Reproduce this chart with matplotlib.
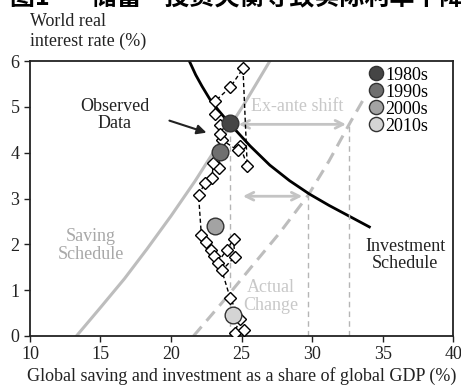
import numpy as np
import matplotlib
matplotlib.use("Agg")
from matplotlib import pyplot as plt

plt.rcParams['font.family'] = ['Liberation Serif', 'DejaVu Serif']

# %% schedules (share of GDP %, real rate %)
invest_x = [21.3, 21.75, 22.2, 22.75, 23.35, 24.2, 25.6, 27.0, 28.4, 29.8, 31.2, 32.6, 34.06]
invest_y = [6.0, 5.7, 5.45, 5.17, 4.93, 4.62, 4.15, 3.73, 3.39, 3.1, 2.85, 2.62, 2.38]

saving_x = [13.3, 15.0, 16.7, 18.3, 20.0, 21.7, 23.4, 25.2, 27.0]
saving_y = [0.0, 0.62, 1.25, 1.9, 2.62, 3.38, 4.2, 5.07, 6.0]

shifted_x = [21.6, 23.6, 25.6, 27.7, 29.74, 31.2, 32.7, 33.8]
shifted_y = [0.0, 0.72, 1.47, 2.25, 3.08, 3.82, 4.66, 5.25]

# %% annual observations
obs_x = [23.5, 23.1, 23.1, 24.2, 25.1, 25.4, 24.9, 24.75, 23.6, 23.45, 23.4, 23.0,
         22.9, 22.4, 21.95, 22.15, 22.5, 22.85, 23.05, 23.3, 23.95, 24.45, 24.5,
         23.6, 24.2, 24.9, 24.5, 25.2]
obs_y = [4.6, 4.85, 5.12, 5.43, 5.84, 3.72, 4.15, 4.05, 4.28, 4.4, 3.67, 3.78,
         3.44, 3.33, 3.08, 2.2, 2.05, 1.88, 1.75, 1.6, 1.88, 2.12, 1.72,
         1.43, 0.82, 0.38, 0.07, 0.12]

# decade averages
decades = ['1980s', '1990s', '2000s', '2010s']
dec_x = [24.18, 23.48, 23.12, 24.42]
dec_y = [4.64, 4.02, 2.39, 0.46]
dec_colors = ['#454545', '#6f6f6f', '#a3a3a3', '#d4d4d4']

# %%
fig = plt.figure(figsize=(4.61, 3.87), dpi=100)
ax = fig.add_axes([0.065, 0.132, 0.918, 0.71])

light = '#bdbdbd'
ink = '#222222'

ax.plot(saving_x, saving_y, color=light, lw=2.2)
ax.plot(shifted_x, shifted_y, color=light, lw=2.2, dashes=(4, 2.5))
ax.plot(invest_x, invest_y, color='black', lw=2.0)

# verticals at the intersections
for vx, vy in [(dec_x[0], dec_y[0]), (29.74, 3.08), (32.6, 4.66)]:
    ax.plot([vx, vx], [0, vy], color='#b5b5b5', lw=1.0, dashes=(4, 3))

ax.annotate('', xy=(32.6, 4.62), xytext=(24.6, 4.62),
            arrowprops=dict(arrowstyle='<->', color='#c4c4c4', lw=2, mutation_scale=14))
ax.annotate('', xy=(29.5, 3.05), xytext=(24.9, 3.05),
            arrowprops=dict(arrowstyle='<->', color='#c4c4c4', lw=2, mutation_scale=14))

ax.plot(obs_x, obs_y, color='black', lw=1.0, ls=(0, (3, 2)), marker='D', ms=6.3,
        mfc='white', mec='black', mew=1.0, zorder=4)

for lab, x, y, c in zip(decades, dec_x, dec_y, dec_colors):
    ax.plot(x, y, 'o', ms=12, mfc=c, mec='#333333', mew=1, zorder=5, label=lab)

ax.legend(loc='upper right', bbox_to_anchor=(0.955, 1.0), frameon=False, fontsize=13,
          handlelength=0.7, handletextpad=0.2, labelspacing=0.0, borderaxespad=0.1,
          markerscale=0.85, borderpad=0.2)

fs = 13
ax.text(25.7, 5.0, 'Ex-ante shift', color='#c8c8c8', fontsize=fs, va='center')
ax.text(27.1, 0.86, 'Actual\nChange', color='#c8c8c8', fontsize=fs, ha='center',
        va='center', linespacing=1.05)
ax.text(14.3, 1.98, 'Saving\nSchedule', color='#a8a8a8', fontsize=fs, ha='center',
        va='center', linespacing=1.05)
ax.text(36.6, 1.77, 'Investment\nSchedule', color=ink, fontsize=fs, ha='center',
        va='center', linespacing=1.05)
ax.text(16.0, 4.83, 'Observed\nData', color=ink, fontsize=fs, ha='center',
        va='center', linespacing=1.0)
ax.annotate('', xy=(22.7, 4.42), xytext=(19.7, 4.72),
            arrowprops=dict(arrowstyle='-|>', color=ink, lw=1.5, mutation_scale=14))

ax.set_xlim(10, 40)
ax.set_ylim(0, 6)
ax.set_xticks(np.arange(10, 41, 5))
ax.set_yticks(np.arange(0, 7, 1))
ax.tick_params(labelsize=13, length=4, width=1, colors=ink)
for s in ax.spines.values():
    s.set_linewidth(1.3)
    s.set_color(ink)

ax.set_xlabel('Global saving and investment as a share of global GDP (%)', fontsize=13,
              labelpad=3, color=ink)
fig.text(0.065, 1 - 50 / 387, 'World real\ninterest rate (%)', fontsize=13,
         va='bottom', linespacing=1.2, color=ink)

# page title, cut off at the top edge
fig.text(0.022, 1 - 5 / 387, '图1　   储蓄—投资失衡导致实际利率下降', fontsize=18,
         family=['Noto Sans CJK SC', 'DejaVu Sans'], weight='bold', va='baseline')

fig.savefig('out.png', dpi=100)
